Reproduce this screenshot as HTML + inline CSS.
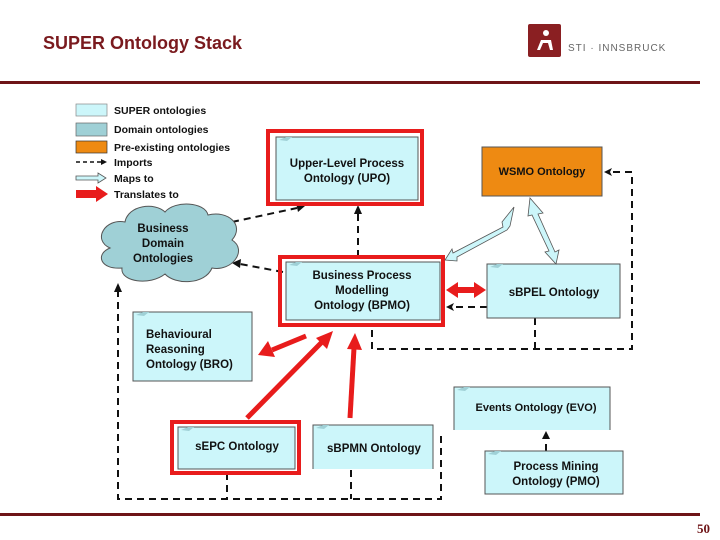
<!DOCTYPE html>
<html><head><meta charset="utf-8"><style>
body{margin:0;background:#fff}
svg{display:block}
text{font-family:"Liberation Sans",sans-serif;font-weight:bold;font-size:11.5px;fill:#111}
.lg{font-size:10.5px;font-weight:bold}
</style></head><body>
<svg width="720" height="540" viewBox="0 0 720 540">
<text x="43" y="49" style="font-size:18px;fill:#7a1a1e">SUPER Ontology Stack</text>
<rect x="528" y="24" width="33" height="33" rx="2" fill="#8a1f22"/>
<circle cx="546" cy="33" r="3" fill="#fff"/>
<path d="M537,50 L541,40 L551,40 L553,50 L550,50 L548,43 L543,43 L540,50z" fill="#fff"/>
<text x="568" y="51" style="font-size:10px;font-weight:normal;fill:#666;letter-spacing:1px">STI · INNSBRUCK</text>
<rect x="0" y="81" width="700" height="3" fill="#6e1417"/>
<rect x="0" y="513" width="700" height="3" fill="#6e1417"/>
<text x="697" y="533" style="font-family:'Liberation Serif',serif;font-size:13px;fill:#6e1417">50</text>

<!-- legend -->
<rect x="76" y="104" width="31" height="12" fill="#ccf6fa" stroke="#888" stroke-width="0.7"/>
<rect x="76" y="123" width="31" height="13" fill="#9fd0d6" stroke="#666" stroke-width="0.7"/>
<rect x="76" y="141" width="31" height="12" fill="#ee8a12" stroke="#333" stroke-width="0.7"/>
<line x1="76" y1="162" x2="101" y2="162" stroke="#111" stroke-width="1.5" stroke-dasharray="4,3"/>
<path d="M101,159 L107,162 L101,165z" fill="#111"/>
<path d="M76,176 L98,176 L98,173 L106,178 L98,183 L98,180 L76,180z" fill="#ccf6fa" stroke="#555" stroke-width="0.8"/>
<path d="M76,190 L96,190 L96,186 L108,194 L96,202 L96,198 L76,198z" fill="#e81c1c"/>
<text class="lg" x="114" y="114">SUPER ontologies</text>
<text class="lg" x="114" y="133">Domain ontologies</text>
<text class="lg" x="114" y="151">Pre-existing ontologies</text>
<text class="lg" x="114" y="166">Imports</text>
<text class="lg" x="114" y="182">Maps to</text>
<text class="lg" x="114" y="198">Translates to</text>

<!-- dashed connectors -->
<g stroke="#111" stroke-width="2" fill="none" stroke-dasharray="7,5">
<polyline points="118,290 118,499 441,499 441,434"/>
<line x1="227" y1="473" x2="227" y2="499"/>
<line x1="351" y1="470" x2="351" y2="499"/>
<polyline points="372,330 372,349 632,349 632,172 610,172"/>
<line x1="535" y1="318" x2="535" y2="349"/>
<line x1="487" y1="307" x2="452" y2="307"/>
<line x1="358" y1="257" x2="358" y2="212"/>
<line x1="232" y1="222" x2="297" y2="208"/>
<line x1="283" y1="272" x2="240" y2="264"/>
<line x1="546" y1="451" x2="546" y2="438"/>
</g>
<g fill="#111">
<path d="M118,283 L114,292 L122,292z"/>
<path d="M604,172 L612,168 L610,172 L612,176z"/>
<path d="M446,307 L454,303 L452,307 L454,311z"/>
<path d="M358,205 L354,214 L362,214z"/>
<path d="M305,206 L296,203 L298,212z"/>
<path d="M232,263 L241,259 L240,268z"/>
<path d="M546,431 L542,439 L550,439z"/>
</g>

<!-- cloud -->
<g fill="#9fd0d6" stroke="#555" stroke-width="1">
<path d="M110,248 C92,240 105,218 125,222 C128,205 155,202 165,212 C175,200 205,202 208,215 C228,210 245,225 232,240 C248,250 232,272 212,268 C205,285 175,285 165,274 C150,286 120,282 122,268 C100,270 95,254 110,248z"/>
</g>
<text x="163" y="232" text-anchor="middle">Business</text>
<text x="163" y="247" text-anchor="middle">Domain</text>
<text x="163" y="262" text-anchor="middle">Ontologies</text>

<!-- nodes -->
<g stroke="#555" stroke-width="1" fill="#ccf6fa">
<rect x="268" y="131" width="154" height="73" fill="none" stroke="#e81c1c" stroke-width="4"/>
<rect x="276" y="137" width="142" height="63"/>
<rect x="482" y="147" width="120" height="49" fill="#ee8a12"/>
<rect x="280" y="257" width="163" height="68" fill="none" stroke="#e81c1c" stroke-width="4"/>
<rect x="286" y="262" width="154" height="58"/>
<rect x="487" y="264" width="133" height="54"/>
<rect x="133" y="312" width="119" height="69"/>
<path d="M454,430 L454,387 L610,387 L610,430"/>
<rect x="172" y="422" width="127" height="51" fill="none" stroke="#e81c1c" stroke-width="4"/>
<rect x="178" y="427" width="117" height="42"/>
<path d="M313,469 L313,425 L433,425 L433,469"/>
<rect x="485" y="451" width="138" height="43"/>
</g>
<g fill="#9fd0d6">
<path d="M279,140 L286,137 L292,137 L287,141z"/>
<path d="M289,265 L296,262 L302,262 L297,266z"/>
<path d="M490,267 L497,264 L503,264 L498,268z"/>
<path d="M136,315 L143,312 L149,312 L144,316z"/>
<path d="M457,390 L464,387 L470,387 L465,391z"/>
<path d="M181,430 L188,427 L194,427 L189,431z"/>
<path d="M316,428 L323,425 L329,425 L324,429z"/>
<path d="M488,454 L495,451 L501,451 L496,455z"/>
</g>
<text x="347" y="167" text-anchor="middle">Upper-Level Process</text>
<text x="347" y="182" text-anchor="middle">Ontology (UPO)</text>
<text x="542" y="175" text-anchor="middle" style="font-size:11px">WSMO Ontology</text>
<text x="362" y="279" text-anchor="middle">Business Process</text>
<text x="362" y="294" text-anchor="middle">Modelling</text>
<text x="362" y="309" text-anchor="middle">Ontology (BPMO)</text>
<text x="554" y="296" text-anchor="middle">sBPEL Ontology</text>
<text x="146" y="338">Behavioural</text>
<text x="146" y="353">Reasoning</text>
<text x="146" y="368">Ontology (BRO)</text>
<text x="536" y="411" text-anchor="middle" style="font-size:11px">Events Ontology (EVO)</text>
<text x="237" y="450" text-anchor="middle">sEPC Ontology</text>
<text x="374" y="452" text-anchor="middle">sBPMN Ontology</text>
<text x="556" y="470" text-anchor="middle">Process Mining</text>
<text x="556" y="485" text-anchor="middle">Ontology (PMO)</text>

<!-- maps-to double arrows -->
<g fill="#ccf6fa" stroke="#555" stroke-width="0.8">
<path d="M445,260 L452,249 L453,253 L503,227 L502,222 L514,207 L510,226 L507,230 L457,257 L457,261z"/>
<path d="M530,198 L543,213 L538,214 L555,252 L559,250 L556,264 L545,252 L549,251 L532,215 L528,216z"/>
</g>
<!-- red arrows -->
<g fill="#e81c1c">
<path d="M446,290 L458,282 L458,287 L474,287 L474,282 L486,290 L474,298 L474,293 L458,293 L458,298z"/>
</g>
<g stroke="#e81c1c" stroke-width="5" fill="none">
<line x1="306" y1="336" x2="272" y2="350"/>
<line x1="247" y1="418" x2="322" y2="342"/>
<line x1="350" y1="418" x2="354" y2="348"/>
</g>
<g fill="#e81c1c">
<path d="M258,355 L268,341 L275,357z"/>
<path d="M333,331 L327,349 L316,338z"/>
<path d="M355,333 L362,350 L347,349z"/>
</g>
</svg>
</body></html>
